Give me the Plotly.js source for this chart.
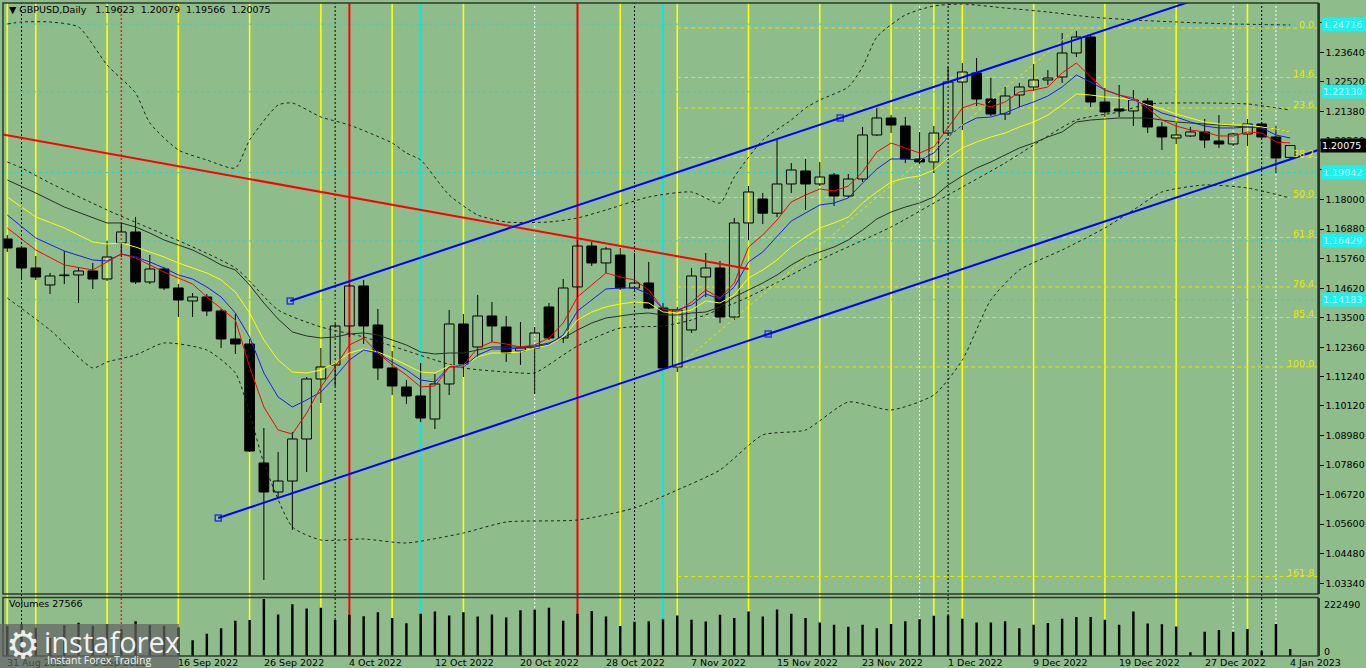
<!DOCTYPE html>
<html><head><meta charset="utf-8">
<script src="https://cdn.plot.ly/plotly-3.0.1.min.js"></script>
<style>html,body{margin:0;padding:0;background:#8fbc8b;overflow:hidden}#chart{width:1366px;height:668px}</style>
</head><body><div id="chart"></div><script>
// ---------------- data ----------------
const dates = ["2022-08-31",
"2022-09-01","2022-09-02","2022-09-05","2022-09-06","2022-09-07","2022-09-08","2022-09-09","2022-09-12","2022-09-13","2022-09-14","2022-09-15","2022-09-16","2022-09-19","2022-09-20","2022-09-21","2022-09-22","2022-09-23","2022-09-26","2022-09-27","2022-09-28","2022-09-29","2022-09-30",
"2022-10-03","2022-10-04","2022-10-05","2022-10-06","2022-10-07","2022-10-10","2022-10-11","2022-10-12","2022-10-13","2022-10-14","2022-10-17","2022-10-18","2022-10-19","2022-10-20","2022-10-21","2022-10-24","2022-10-25","2022-10-26","2022-10-27","2022-10-28","2022-10-31",
"2022-11-01","2022-11-02","2022-11-03","2022-11-04","2022-11-07","2022-11-08","2022-11-09","2022-11-10","2022-11-11","2022-11-14","2022-11-15","2022-11-16","2022-11-17","2022-11-18","2022-11-21","2022-11-22","2022-11-23","2022-11-24","2022-11-25","2022-11-28","2022-11-29","2022-11-30",
"2022-12-01","2022-12-02","2022-12-05","2022-12-06","2022-12-07","2022-12-08","2022-12-09","2022-12-12","2022-12-13","2022-12-14","2022-12-15","2022-12-16","2022-12-19","2022-12-20","2022-12-21","2022-12-22","2022-12-23","2022-12-26","2022-12-27","2022-12-28","2022-12-29","2022-12-30",
"2023-01-02","2023-01-03","2023-01-04"];

const open = [1.16502,1.16158,1.15394,1.14744,1.15100,1.15126,1.15279,1.14973,1.16349,1.16770,
1.14859,1.15355,1.14629,1.14132,1.14285,1.13750,1.12679,1.12488,1.07939,1.06830,
1.07250,1.08856,1.11150,1.11685,1.13176,1.14706,1.13214,1.11571,1.10844,1.10500,
1.09620,1.10959,1.13253,1.12373,1.13559,1.13138,1.12220,1.12335,1.13903,1.12718,
1.14668,1.16234,1.15585,1.15890,1.14629,1.14820,1.13864,1.11609,1.13023,1.15050,
1.15394,1.13520,1.17114,1.18031,1.17489,1.18605,1.19102,1.18605,1.18949,1.18146,
1.18796,1.20478,1.21128,1.20822,1.19561,1.19446,1.20554,1.22504,1.22848,1.21854,
1.21281,1.22007,1.22313,1.22581,1.22695,1.23613,1.24224,1.21739,1.21472,1.21396,
1.21778,1.20784,1.20363,1.20440,1.20593,1.20249,1.20134,1.20516,1.20898,1.20402,
1.19623];
const high = [1.16655,1.16196,1.15852,1.15203,1.16043,1.15432,1.15585,1.16426,1.17114,1.17343,
1.15890,1.15432,1.14782,1.14438,1.14400,1.13826,1.13635,1.12679,1.09276,1.08359,
1.09124,1.11226,1.12335,1.13253,1.14782,1.14935,1.13826,1.12220,1.11112,1.11761,
1.11341,1.13788,1.13635,1.14362,1.14094,1.13559,1.13329,1.13138,1.14056,1.14973,
1.16464,1.16387,1.16196,1.16158,1.15967,1.15623,1.14056,1.13903,1.15394,1.15967,
1.15661,1.17305,1.18528,1.18261,1.20287,1.19408,1.19561,1.19446,1.19025,1.18987,
1.20784,1.21510,1.21242,1.21166,1.20593,1.20822,1.23078,1.23231,1.23422,1.22657,
1.22313,1.22466,1.23192,1.22963,1.24377,1.24454,1.24301,1.22275,1.22389,1.22198,
1.21892,1.20975,1.20937,1.20784,1.21090,1.21242,1.20554,1.21090,1.20975,1.20822,
1.20079];
const low = [1.16005,1.14973,1.14935,1.14400,1.14782,1.14056,1.14591,1.14897,1.15814,1.14782,
1.14782,1.14553,1.13520,1.13520,1.13559,1.12335,1.12105,1.08359,1.03466,1.06600,
1.05377,1.07594,1.10232,1.10882,1.12756,1.12488,1.11112,1.10538,1.10194,1.09506,
1.09238,1.10538,1.11226,1.11991,1.12565,1.11800,1.11685,1.10576,1.12641,1.12526,
1.14285,1.15470,1.15203,1.14553,1.14476,1.13826,1.11494,1.11418,1.12909,1.14285,
1.13291,1.13405,1.16464,1.17075,1.17343,1.18261,1.17611,1.18528,1.17764,1.18070,
1.18681,1.20440,1.20554,1.19408,1.19369,1.19025,1.20500,1.20669,1.21587,1.21204,
1.21051,1.21548,1.22160,1.22389,1.22466,1.23460,1.21548,1.21166,1.21166,1.20822,
1.20554,1.19905,1.20134,1.20402,1.19981,1.19981,1.20058,1.20058,1.20350,1.19025,
1.19566];
const close = [1.16158,1.15394,1.15050,1.15088,1.15126,1.15279,1.14973,1.15814,1.16770,1.14859,
1.15355,1.14629,1.14170,1.14285,1.13750,1.12679,1.12488,1.08397,1.06830,1.07250,
1.08856,1.11150,1.11609,1.13176,1.14706,1.13176,1.11571,1.10882,1.10500,1.09658,
1.10959,1.13253,1.11723,1.13559,1.13176,1.12144,1.12335,1.12909,1.12718,1.14629,
1.16234,1.15585,1.16120,1.14629,1.14820,1.13864,1.11571,1.13788,1.15088,1.15394,
1.13520,1.17114,1.18299,1.17489,1.18605,1.19140,1.18605,1.18872,1.18146,1.18796,
1.20478,1.21128,1.20860,1.19561,1.19446,1.20554,1.22504,1.22886,1.21854,1.21281,
1.21969,1.22313,1.22581,1.22657,1.23613,1.24224,1.21739,1.21357,1.21396,1.21816,
1.20784,1.20402,1.20478,1.20593,1.20287,1.20134,1.20516,1.20898,1.20402,1.19599,
1.20075];
const volume = [118000,125000,110000,70000,120000,130000,118000,125000,105000,135000,
120000,118000,112000,61800,86500,108500,137300,140000,222490,162000,
201800,185400,188100,140000,160600,155100,170300,148300,127700,164800,
173000,157900,170300,153800,162000,149700,178500,179900,188100,137300,
164800,175700,153800,116700,133200,135900,142800,157900,141400,134600,
160600,148300,173000,153800,181200,164800,148300,130400,122200,114000,
122200,108500,124900,135900,142800,156500,157900,145500,130400,130400,
135900,108500,122200,129100,145500,152400,152400,141400,122200,173000,
126300,123600,115300,15100,94700,101600,94700,105700,20600,124900,
27566];

// moving averages (by bar index)
const maIdxA = [0,2,4,6,8,9,11,13,14,16,17,18,19,20,21,22,23,24,25,26,27,28,29,30,31,32,33,34,35,36,37,38,39,40,41,42,43,44,45,46,47,48,49,50,51,52,53,54,55,56,57,58,59,60,61,62,63,64,65,66,67,68,69,70,71,72,73,74,75,76,77,78,79,80,81,82,83,84,85,86,87,88,89,90];
const maRed = [1.16923,1.16081,1.15508,1.15317,1.15929,1.15776,1.15240,1.14782,1.14285,1.13405,
1.11609,1.10079,1.09200,1.09047,1.09850,1.10844,1.11609,1.12450,1.12717,1.12144,1.11685,1.11303,1.10844,1.10882,1.11609,1.11685,1.12335,1.12564,1.12488,1.12373,1.12450,1.12717,1.13291,1.14285,1.14743,1.15202,1.15049,1.14935,1.14552,1.13826,1.13711,1.14094,1.14552,1.14246,1.14820,1.16196,1.16655,1.17228,1.17917,1.18184,1.18414,1.18337,1.18528,1.19063,1.19828,1.20172,1.19981,1.19790,1.20019,1.20784,1.21510,1.21701,1.21548,1.21740,1.22122,1.22198,1.22313,1.22848,1.23231,1.22695,1.22198,1.22007,1.21892,1.21510,1.21051,1.20822,1.20669,1.20593,1.20440,1.20440,1.20593,1.20554,1.20210,1.20172];
const maIdxB = [0,2,4,6,7,8,9,10,11,12,13,14,15,16,17,18,19,20,21,22,23,24,25,26,27,28,29,30,31,32,33,34,35,36,37,38,39,40,41,42,43,44,45,46,47,48,49,50,51,52,53,54,55,56,57,58,59,60,61,62,63,64,65,66,67,68,69,70,71,72,73,74,75,76,77,78,79,80,81,82,83,84,85,86,87,88,89,90];
const maBlue = [1.17420,1.16540,1.16043,1.15699,1.15661,1.15929,1.15814,1.15623,1.15393,1.15126,1.14973,1.14667,1.14285,1.13673,1.12755,1.11379,1.10462,1.10079,1.10347,1.10653,1.11226,1.11876,1.12258,1.12144,1.11800,1.11494,1.11112,1.11035,1.11609,1.11609,1.12067,1.12297,1.12297,1.12335,1.12373,1.12488,1.12832,1.13749,1.14170,1.14591,1.14629,1.14629,1.14399,1.13826,1.13788,1.13979,1.14399,1.14208,1.14667,1.15623,1.16005,1.16578,1.17190,1.17496,1.17802,1.17878,1.18069,1.18643,1.19178,1.19560,1.19560,1.19522,1.19790,1.20401,1.20860,1.21128,1.21166,1.21319,1.21548,1.21740,1.21969,1.22313,1.22772,1.22504,1.22198,1.22007,1.21816,1.21587,1.21319,1.21166,1.20975,1.20822,1.20746,1.20746,1.20784,1.20746,1.20478,1.20363];
const maYellow = [1.18108,1.17343,1.16923,1.16387,1.16311,1.16349,1.16196,1.16005,1.15814,1.15585,1.15394,1.15203,1.14935,1.14476,1.13673,1.12641,1.11876,1.11418,1.11379,1.11494,1.11762,1.12144,1.12297,1.12182,1.11953,1.11685,1.11418,1.11379,1.11647,1.11647,1.11991,1.12144,1.12144,1.12182,1.12335,1.12450,1.12756,1.13405,1.13711,1.13903,1.14017,1.14094,1.14056,1.13711,1.13673,1.13788,1.14132,1.14056,1.14362,1.15012,1.15317,1.15699,1.16196,1.16578,1.16923,1.17114,1.17343,1.17878,1.18299,1.18681,1.18834,1.18911,1.19140,1.19599,1.19981,1.20210,1.20402,1.20554,1.20784,1.20975,1.21242,1.21625,1.22045,1.22007,1.21931,1.21892,1.21816,1.21625,1.21472,1.21281,1.21128,1.20975,1.20898,1.20860,1.20860,1.20784,1.20707,1.20593];
const maDark = [1.18758,1.18261,1.17725,1.17305,1.17114,1.17114,1.16961,1.16731,1.16464,1.16273,1.16081,1.15814,1.15508,1.15317,1.14744,1.14056,1.13444,1.12947,1.12794,1.12717,1.12756,1.12870,1.12909,1.12832,1.12641,1.12450,1.12182,1.12105,1.12144,1.12144,1.12258,1.12373,1.12373,1.12373,1.12411,1.12526,1.12717,1.13023,1.13291,1.13482,1.13559,1.13635,1.13673,1.13597,1.13597,1.13673,1.13711,1.13903,1.14285,1.14553,1.14820,1.15126,1.15508,1.15814,1.16005,1.16196,1.16464,1.16846,1.17267,1.17534,1.17725,1.17878,1.18108,1.18566,1.18911,1.19216,1.19446,1.19713,1.19981,1.20172,1.20402,1.20593,1.20975,1.21051,1.21090,1.21128,1.21128,1.21128,1.21051,1.20975,1.20937,1.20898,1.20860,1.20822,1.20784,1.20784,1.20707,1.20593];

// Bollinger bands
const bbUpIdx = [0,1,3,5,7,9,10,12,14,16,17,19,20,22,24,27,28,29,31,33,35,38,40,42,45,48,50,51,53,55,56,57,59,60,61,63,65,67,70,73,76,79,82,86,90];
const bbUpVal = [1.24721,1.24798,1.24798,1.24607,1.23154,1.22084,1.20937,1.19905,1.19522,1.19216,1.20287,1.21625,1.21701,1.21166,1.20860,1.20172,1.19790,1.19522,1.18184,1.17420,1.17152,1.17152,1.17305,1.17611,1.18108,1.18299,1.17878,1.18872,1.20287,1.21051,1.21510,1.21816,1.22313,1.23078,1.24224,1.25066,1.25410,1.25486,1.25333,1.25180,1.24989,1.24875,1.24798,1.24721,1.24683];
const bbMidIdx = [0,1,3,7,16,19,22,25,30,32,36,37,40,43,46,48,52,57,62,66,70,75,78,80,84,87,90];
const bbMidVal = [1.19446,1.19216,1.18643,1.17611,1.15394,1.13788,1.13138,1.12756,1.11876,1.11571,1.11380,1.11380,1.12411,1.13099,1.13176,1.13405,1.14285,1.15699,1.16961,1.18184,1.19408,1.21051,1.21357,1.21663,1.21701,1.21663,1.21434];
const bbLowIdx = [0,3,6,7,9,11,14,16,17,18,20,22,25,28,32,35,40,44,47,50,53,56,59,62,65,67,69,71,74,77,79,81,84,87,90];
const bbLowVal = [1.14247,1.13023,1.11571,1.11800,1.12067,1.12526,1.12258,1.11379,1.09850,1.07938,1.05492,1.04995,1.05033,1.04880,1.05262,1.05683,1.05759,1.06218,1.06906,1.07671,1.09009,1.09200,1.10270,1.09965,1.10538,1.11876,1.14170,1.15317,1.16081,1.16923,1.17611,1.18299,1.18567,1.18452,1.18070];

// drawn objects
const chanUpX = [19.85, 58.43, 95], chanUpY = [1.14132, 1.21128, 1.27757];
const chanLoX = [14.8, 53.38, 95], chanLoY = [1.05836, 1.12870, 1.20456];
const redTrendX = [-1, 52], redTrendY = [1.20562, 1.15352];
const fibFromX = 47, fibLow = 1.11609, fibToX = 75, fibHigh = 1.24569;
const fibLevels = [0, 14.6, 23.6, 38.2, 50.0, 61.8, 76.4, 85.4, 100.0, 161.8];
const cyanLevels = [1.24716, 1.22130, 1.19042, 1.16429, 1.14183];
const priceTicks = ["1.24780","1.23640","1.22520","1.21380","1.20260","1.19140","1.18000","1.16880","1.15760","1.14620","1.13500","1.12360","1.11240","1.10120","1.08980","1.07860","1.06720","1.05600","1.04480","1.03340"];
const vYellow = ["2022-08-31","2022-09-02","2022-09-09","2022-09-16","2022-09-23","2022-09-30","2022-10-07","2022-10-14","2022-10-31","2022-11-04","2022-11-11","2022-11-18","2022-11-25","2022-11-30","2022-12-02","2022-12-09","2022-12-16","2022-12-23","2022-12-30"];
const vBlackDot = ["2022-09-01","2022-10-03","2022-11-01","2022-12-01","2023-01-02"];
const vWhiteDot = ["2022-10-21","2022-11-29","2022-12-29","2023-01-03"];
const vRedDot = ["2022-09-12"];
const vRed = ["2022-10-04","2022-10-26"];
const vCyan = ["2022-10-11","2022-11-03"];
const dateLabelIdx = [0,6,12,18,24,30,36,42,48,54,60,66,72,78,84,90];

// ---------------- layout helpers ----------------
const W = 1366, H = 668, ML = 3, MR = 48, MT = 3, MB = 12;
const pw = W - ML - MR, ph = H - MT - MB;
const pxX = x => (x - ML) / pw;
const pxY = y => (H - MB - y) / ph;
const BG = '#8fbc8b';
const FONT = 'DejaVu Sans';
const MON = ['Jan','Feb','Mar','Apr','May','Jun','Jul','Aug','Sep','Oct','Nov','Dec'];
const fmtDate = s => { const p = s.split('-'); return (+p[2]) + ' ' + MON[+p[1]-1] + ' ' + p[0]; };
const idxOf = d => dates.indexOf(d);
const xs = dates.map((d, i) => i);

// candles
const wx = [], wy = [];
xs.forEach(i => {
  const top = Math.max(open[i], close[i]), bot = Math.min(open[i], close[i]);
  wx.push(i, i, null, i, i, null);
  wy.push(high[i], top, null, bot, low[i], null);
});
const bodyH = xs.map(i => Math.max(Math.abs(close[i] - open[i]), 0.00008));
const bodyB = xs.map(i => Math.min(open[i], close[i]));
const bodyC = xs.map(i => close[i] >= open[i] ? 'rgba(0,0,0,0)' : '#000000');

const traces = [
  {type:'scatter', mode:'lines', x:bbUpIdx, y:bbUpVal, line:{color:'#1c261c', width:1, dash:'3px,3px', shape:'spline', smoothing:0.6}},
  {type:'scatter', mode:'lines', x:bbMidIdx, y:bbMidVal, line:{color:'#1c261c', width:1, dash:'3px,3px', shape:'spline', smoothing:0.6}},
  {type:'scatter', mode:'lines', x:bbLowIdx, y:bbLowVal, line:{color:'#1c261c', width:1, dash:'3px,3px', shape:'spline', smoothing:0.6}},
  {type:'bar', x:xs, y:bodyH, base:bodyB, width:0.68, marker:{color:bodyC, line:{color:'#000', width:1}}},
  {type:'scatter', mode:'lines', x:wx, y:wy, line:{color:'#000', width:1}, connectgaps:false},
  {type:'scatter', mode:'lines', x:maIdxB, y:maDark, line:{color:'#263026', width:1}},
  {type:'scatter', mode:'lines', x:maIdxB, y:maYellow, line:{color:'#ffff00', width:1}},
  {type:'scatter', mode:'lines', x:maIdxB, y:maBlue, line:{color:'#1a1aff', width:1}},
  {type:'scatter', mode:'lines', x:maIdxA, y:maRed, line:{color:'#ff0000', width:1}},
  {type:'scatter', mode:'lines', x:[fibFromX, fibToX], y:[fibLow, fibHigh], line:{color:'#e8e800', width:1, dash:'3px,3px'}},
  {type:'scatter', mode:'lines', x:redTrendX, y:redTrendY, line:{color:'#ff0000', width:2}},
  {type:'scatter', mode:'lines+markers', x:chanUpX, y:chanUpY, line:{color:'#0000ff', width:2},
    marker:{symbol:'square-open', size:[6,6,0], color:'#0000ff', line:{width:1.5, color:'#0000ff'}}},
  {type:'scatter', mode:'lines+markers', x:chanLoX, y:chanLoY, line:{color:'#0000ff', width:2},
    marker:{symbol:'square-open', size:[6,6,0], color:'#0000ff', line:{width:1.5, color:'#0000ff'}}},
  {type:'bar', x:xs, y:volume, yaxis:'y2', width:0.17, marker:{color:'#000', line:{width:0}}}
];

// shapes
const shapes = [];
const vline = (d, color, width, dash) => shapes.push({type:'line', layer:'below', xref:'x', yref:'paper',
  x0:idxOf(d), x1:idxOf(d), y0:0, y1:1, line:{color, width, dash}});
vYellow.forEach(d => vline(d, '#ffff00', 1.6, 'solid'));
vBlackDot.forEach(d => vline(d, '#000000', 1, '2px,2px'));
vWhiteDot.forEach(d => vline(d, '#ffffff', 1, '2px,2px'));
vRedDot.forEach(d => vline(d, '#ff1a1a', 1.5, '2px,2px'));
vRed.forEach(d => vline(d, '#ff0000', 2, 'solid'));
vCyan.forEach((d, k) => vline(d, '#00e8e8', k ? 2 : 1.2, 'solid'));
cyanLevels.forEach(v => shapes.push({type:'line', layer:'below', xref:'paper', yref:'y', x0:0, x1:1, y0:v, y1:v,
  line:{color:'#22d8d8', width:1, dash:'3px,3px'}}));
const fibPrice = lv => fibHigh - (fibHigh - fibLow) * lv / 100;
fibLevels.forEach(lv => shapes.push({type:'line', layer:'below', xref:'x', yref:'y', x0:fibFromX, x1:91.95,
  y0:fibPrice(lv), y1:fibPrice(lv), line:{color:'#e6e600', width:1, dash:'4px,3px'}}));
// panel frames
shapes.push({type:'rect', xref:'paper', yref:'paper', x0:0, x1:1, y0:pxY(594), y1:1, line:{color:'#2e382e', width:1.5}});
shapes.push({type:'rect', xref:'paper', yref:'paper', x0:0, x1:1, y0:0, y1:pxY(597.5), line:{color:'#2e382e', width:1.5}});
// logo box
shapes.push({type:'rect', xref:'paper', yref:'paper', x0:pxX(0), x1:pxX(179), y0:pxY(668), y1:pxY(624),
  fillcolor:'rgba(100,100,100,0.72)', line:{width:0}, layer:'above'});

// annotations
const ann = [];
const n = dates.length - 1;
ann.push({xref:'paper', yref:'paper', x:pxX(7), y:pxY(9), xanchor:'left', yanchor:'middle', showarrow:false,
  text:'\u25BC GBPUSD,Daily\u00a0\u00a0 ' + open[n].toFixed(5) + '\u00a0 ' + high[n].toFixed(5) + '\u00a0 ' + low[n].toFixed(5) + '\u00a0 ' + close[n].toFixed(5),
  font:{family:FONT, size:9.5, color:'#000'}});
ann.push({xref:'paper', yref:'paper', x:pxX(7), y:pxY(603), xanchor:'left', yanchor:'middle', showarrow:false,
  text:'Volumes ' + volume[n], font:{family:FONT, size:9.5, color:'#000'}});
ann.push({xref:'paper', yref:'paper', x:pxX(1322), y:pxY(604), xanchor:'left', yanchor:'middle', showarrow:false,
  text:String(Math.max(...volume)), font:{family:FONT, size:9.5, color:'#000'}});
ann.push({xref:'paper', yref:'paper', x:pxX(1322), y:pxY(651), xanchor:'left', yanchor:'middle', showarrow:false,
  text:'0', font:{family:FONT, size:9.5, color:'#000'}});
fibLevels.forEach(lv => ann.push({xref:'paper', yref:'y', x:pxX(1316), y:fibPrice(lv), xanchor:'right', yanchor:'bottom',
  yshift:-4, showarrow:false, text:lv.toFixed(1), font:{family:FONT, size:9.5, color:'#e8e800'}}));
cyanLevels.forEach(v => ann.push({xref:'paper', yref:'y', x:pxX(1321), y:v, xanchor:'left', yanchor:'middle', showarrow:false,
  text:v.toFixed(5), bgcolor:'#1ef0f0', borderpad:1, width:42, align:'left', font:{family:FONT, size:9.5, color:'#c6f6f6'}}));
ann.push({xref:'paper', yref:'y', x:pxX(1320), y:close[n], xanchor:'left', yanchor:'middle', showarrow:false,
  text:close[n].toFixed(5), bgcolor:'#000', borderpad:1, width:44, align:'left', font:{family:FONT, size:9.5, color:'#fff'}});
dateLabelIdx.forEach(i => ann.push({xref:'x', yref:'paper', x:i - 0.15, y:pxY(662), xanchor:'left', yanchor:'middle', showarrow:false,
  text:fmtDate(dates[i]), font:{family:FONT, size:9.5, color: i < 10 ? 'rgba(0,0,0,0.45)' : '#000'}}));
// logo texts
ann.push({xref:'paper', yref:'paper', x:pxX(23), y:pxY(645), xanchor:'center', yanchor:'middle', showarrow:false,
  text:'\u2699', font:{family:'DejaVu Sans', size:38, color:'rgba(255,255,255,0.9)'}});
ann.push({xref:'paper', yref:'paper', x:pxX(42), y:pxY(641), xanchor:'left', yanchor:'middle', showarrow:false,
  text:'instaforex', font:{family:'Open Sans', size:29, color:'rgba(255,255,255,0.92)'}});
ann.push({xref:'paper', yref:'paper', x:pxX(45), y:pxY(660), xanchor:'left', yanchor:'middle', showarrow:false,
  text:'Instant Forex Trading', font:{family:'Open Sans', size:10.5, color:'rgba(255,255,255,0.92)'}});

const layout = {
  width:W, height:H, margin:{l:ML, r:MR, t:MT, b:MB},
  paper_bgcolor:BG, plot_bgcolor:BG, showlegend:false, barmode:'overlay', hovermode:false,
  font:{family:FONT, size:9.5, color:'#000'},
  xaxis:{range:[-0.3, 91.95], showgrid:false, zeroline:false, showticklabels:false, ticks:'', showline:false, anchor:'y2', fixedrange:true},
  yaxis:{domain:[pxY(594), 1], range:[1.02930, 1.25524], side:'right', anchor:'x',
    tickvals:priceTicks.map(Number), ticktext:priceTicks, ticks:'outside', ticklen:4, tickcolor:'#000', tickwidth:1,
    showline:true, linecolor:'#2e382e', linewidth:1.5, showgrid:false, zeroline:false,
    tickfont:{family:FONT, size:9.5, color:'#000'}},
  yaxis2:{domain:[0, pxY(597.5)], range:[0, 228000], side:'right', anchor:'x', showticklabels:false, ticks:'',
    showline:true, linecolor:'#2e382e', linewidth:1.5, showgrid:false, zeroline:false},
  shapes:shapes, annotations:ann
};
Plotly.newPlot('chart', traces, layout, {staticPlot:true, displayModeBar:false});
</script></body></html>
